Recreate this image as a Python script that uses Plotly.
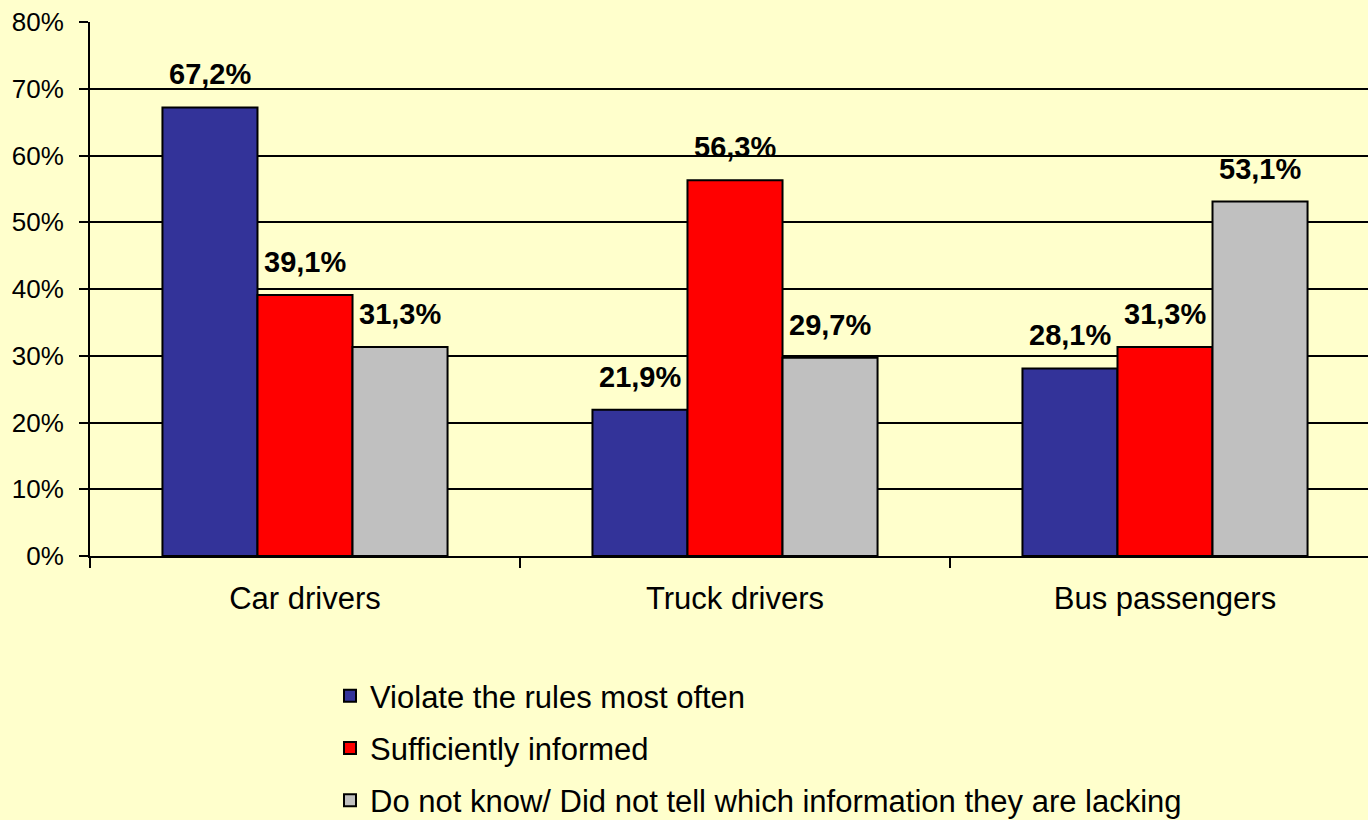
import plotly.graph_objects as go

categories = ["Car drivers", "Truck drivers", "Bus passengers"]
series_names = [
    "Violate the rules most often",
    "Sufficiently informed",
    "Do not know/ Did not tell which information they are lacking",
]
violate = [67.2, 21.9, 28.1]
informed = [39.1, 56.3, 31.3]
dont_know = [31.3, 29.7, 53.1]
colors = ["#333399", "#FF0000", "#C0C0C0"]
y_ticks = [0, 10, 20, 30, 40, 50, 60, 70, 80]

FONT = "Arial, 'Liberation Sans', sans-serif"
BARGAP = 0.337

fig = go.Figure()
all_series = [violate, informed, dont_know]
for k, (name, vals, col) in enumerate(zip(series_names, all_series, colors)):
    fig.add_trace(go.Bar(
        x=categories, y=vals, name=name,
        marker=dict(color=col, line=dict(color="black", width=2)),
        legendgroup=f"g{k}",
        hoverinfo="skip",
    ))

# value labels above bars
w = (1 - BARGAP) / len(all_series)
for k, vals in enumerate(all_series):
    for i, v in enumerate(vals):
        fig.add_annotation(
            x=i + (k - (len(all_series) - 1) / 2) * w, y=v,
            xref="x", yref="y",
            text=f"{v:.1f}%".replace(".", ","),
            showarrow=False, yanchor="bottom", yshift=15,
            font=dict(family=FONT, size=29, color="black", weight="bold"),
        )

fig.update_layout(
    width=1368, height=820,
    paper_bgcolor="#FFFFCC", plot_bgcolor="#FFFFCC",
    barmode="group", bargap=BARGAP, bargroupgap=0,
    margin=dict(l=90, r=0, t=22, b=264, autoexpand=False),
    font=dict(family=FONT, color="black"),
    showlegend=True,
    legend=dict(
        xref="container", yref="container",
        x=330 / 1368, y=1 - 669 / 820, xanchor="left", yanchor="top",
        font=dict(family=FONT, size=31, color="black"),
        traceorder="grouped", tracegroupgap=9,
        bgcolor="rgba(0,0,0,0)",
    ),
    xaxis=dict(
        type="category",
        range=[-0.5, -0.5 + 1278 / 430],
        showline=True, linecolor="black", linewidth=2,
        ticks="outside", tickson="boundaries", ticklen=10, tickwidth=2, tickcolor="black",
        tickfont=dict(family=FONT, size=31, color="black"),
        tickangle=0,
        ticklabelstandoff=14,
        showgrid=False,
    ),
    yaxis=dict(
        range=[0, 80], tickvals=y_ticks, ticktext=[f"{t}%" for t in y_ticks],
        showline=True, linecolor="black", linewidth=2,
        ticks="outside", ticklen=9, tickwidth=2, tickcolor="black",
        tickfont=dict(family=FONT, size=26, color="black"),
        ticklabelstandoff=10,
        showgrid=True, gridcolor="black", gridwidth=2,
        zeroline=False,
    ),
)

fig.write_html("out.html", config={"displayModeBar": False},
               post_script="document.body.style.margin='0';")
